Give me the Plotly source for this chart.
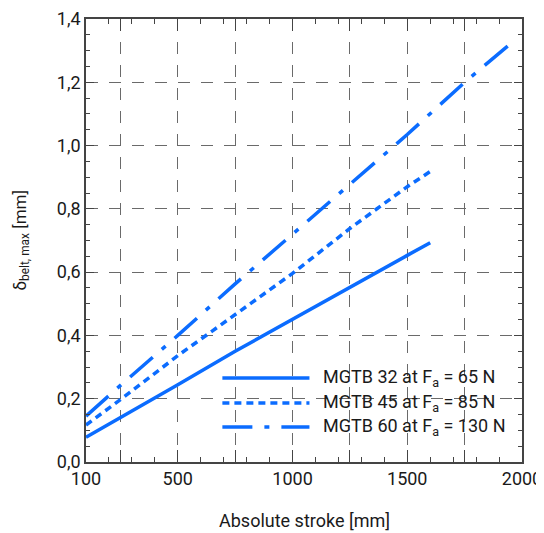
import plotly.graph_objects as go

# ---- data ----
stroke_32 = [100, 250, 500, 750, 1000, 1250, 1500, 1600]
defl_32 = [0.078, 0.140, 0.244, 0.350, 0.452, 0.552, 0.653, 0.693]

stroke_45 = [100, 250, 500, 750, 1000, 1250, 1500, 1600]
defl_45 = [0.117, 0.197, 0.336, 0.465, 0.596, 0.738, 0.870, 0.918]

stroke_60 = [100, 250, 500, 750, 1000, 1250, 1500, 1750, 1960]
defl_60 = [0.145, 0.242, 0.400, 0.563, 0.720, 0.877, 1.035, 1.200, 1.328]

series_names = ["MGTB 32 at F<sub>a</sub> = 65 N",
                "MGTB 45 at F<sub>a</sub> = 85 N",
                "MGTB 60 at F<sub>a</sub> = 130 N"]

x_tickvals = [100, 250, 500, 750, 1000, 1250, 1500, 1750, 2000]
x_ticktext = ["100", "", "500", "", "1000", "", "1500", "", "2000"]
y_tickvals = [0, 0.2, 0.4, 0.6, 0.8, 1.0, 1.2, 1.4]
y_ticktext = ["0,0", "0,2", "0,4", "0,6", "0,8", "1,0", "1,2", "1,4"]

# ---- styles ----
BLUE = "#0b6cff"
LW = 3.5
dashes = ["solid", "7px,5px", "30px,12px,5px,12px"]
FONT = "Roboto"
TXT = "#1a1a1a"
AXC = "#444444"

fig = go.Figure()
for xs, ys, name, d in zip([stroke_32, stroke_45, stroke_60],
                           [defl_32, defl_45, defl_60],
                           series_names, dashes):
    fig.add_trace(go.Scatter(x=xs, y=ys, mode="lines", name=name,
                             line=dict(color=BLUE, width=LW, dash=d),
                             showlegend=False))

# custom legend (white box between grid and traces, samples + text)
fig.add_shape(type="rect", xref="paper", yref="paper",
              x0=0.303, x1=1.0, y0=0.016, y1=0.2415,
              fillcolor="white", line=dict(width=0), layer="between")
leg_y = [0.1896, 0.1332, 0.0790]
for yy, name, d in zip(leg_y, series_names, dashes):
    fig.add_shape(type="line", xref="paper", yref="paper",
                  x0=0.3128, x1=0.5125, y0=yy, y1=yy,
                  line=dict(color=BLUE, width=LW, dash=d), layer="above")
    fig.add_annotation(xref="paper", yref="paper", x=0.5394, y=yy,
                       xanchor="left", yanchor="middle", showarrow=False,
                       text=name, font=dict(family=FONT, size=18, color=TXT))

# axis titles
fig.add_annotation(xref="paper", yref="paper", x=0.5, y=-0.1330,
                   xanchor="center", yanchor="middle", showarrow=False,
                   text="Absolute stroke [mm]",
                   font=dict(family=FONT, size=18, color=TXT))
fig.add_annotation(xref="paper", yref="paper", x=-0.149, y=0.5,
                   xanchor="center", yanchor="middle", showarrow=False,
                   textangle=-90,
                   text="δ<sub>belt, max</sub> [mm]",
                   font=dict(family=FONT, size=17, color=TXT))

common = dict(showgrid=True, gridcolor="#6a6a6a", gridwidth=1,
              griddash="12px,11px", showline=True, linecolor=AXC,
              linewidth=1.5, mirror="allticks", ticks="inside",
              tickcolor=AXC, tickwidth=1.2, zeroline=False,
              tickfont=dict(family=FONT, size=18, color=TXT))

fig.update_xaxes(range=[100, 2000], tickmode="array", tickvals=x_tickvals,
                 ticktext=x_ticktext, ticklen=12,
                 minor=dict(dtick=100, tick0=0, ticks="inside", ticklen=5,
                            tickcolor=AXC, tickwidth=1.2, showgrid=False),
                 **common)
fig.update_yaxes(range=[0, 1.4], tickmode="array", tickvals=y_tickvals,
                 ticktext=y_ticktext, ticklen=8,
                 minor=dict(dtick=0.05, tick0=0, ticks="inside", ticklen=4,
                            tickcolor=AXC, tickwidth=1.2, showgrid=False),
                 **common)

# page has an 8px body margin: size/margins compensate for it
fig.update_layout(width=536, height=525,
                  margin=dict(l=78, r=22, t=11, b=71, autoexpand=False),
                  paper_bgcolor="white", plot_bgcolor="white",
                  font=dict(family=FONT, size=18, color=TXT),
                  showlegend=False)

fig.write_html("out.html")
